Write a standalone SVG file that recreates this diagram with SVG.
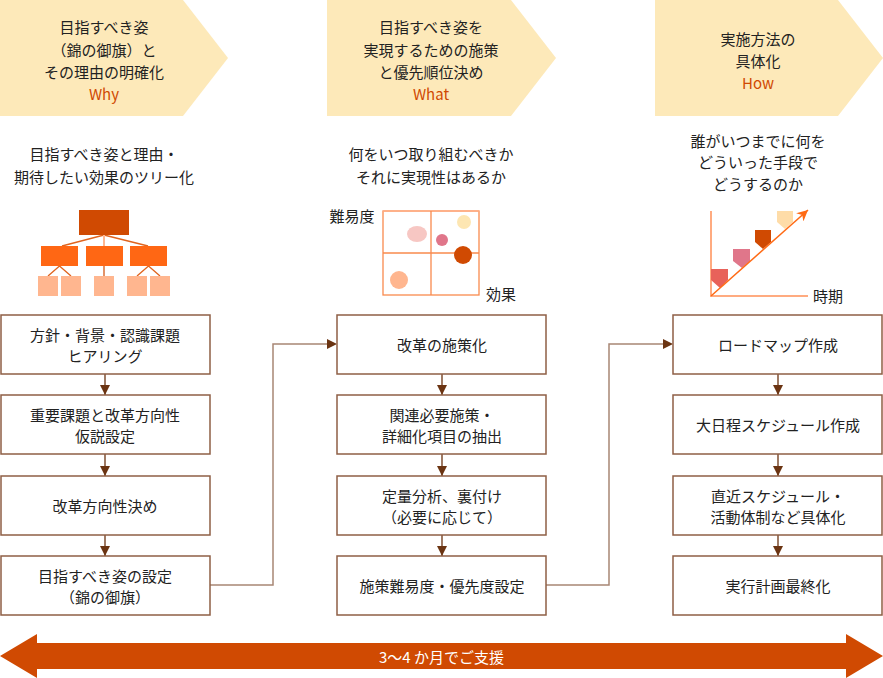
<svg xmlns="http://www.w3.org/2000/svg" width="883" height="678" viewBox="0 0 883 678">
<style>
text{font-family:"Noto Sans CJK JP","Noto Sans",sans-serif;font-size:15px;fill:#222;text-anchor:middle;dominant-baseline:central}
.en{fill:#d04a02}
.hd{fill:#fde9b9}
.box{fill:#fff;stroke:#8e5f45;stroke-width:1.5}
.lnk{fill:none;stroke:#a88674;stroke-width:1.5}
.vl{fill:none;stroke:#6b3412;stroke-width:1.3}
</style>
<defs>
<marker id="ah" viewBox="0 0 10 10" refX="10" refY="5" markerWidth="10" markerHeight="10" markerUnits="userSpaceOnUse" orient="auto">
<path d="M0,0 L10,5 L0,10 Z" fill="#6b3412"/>
</marker>
<marker id="oa" viewBox="0 0 10 10" refX="10" refY="5" markerWidth="11" markerHeight="11" markerUnits="userSpaceOnUse" orient="auto">
<path d="M0,0 L10,5 L0,10 L3,5 Z" fill="#ff6a14"/>
</marker>
</defs>

<g id="header-why">
<polygon class="hd" points="0,0 183,0 228,58 183,116 0,116"/>
<text x="104" y="26.5">目指すべき姿</text>
<text x="104" y="49">（錦の御旗）と</text>
<text x="104" y="71.5">その理由の明確化</text>
<text class="en" x="104" y="93">Why</text>
</g>
<g id="header-what">
<polygon class="hd" points="327,0 511,0 556,58 511,116 327,116"/>
<text x="431" y="26.5">目指すべき姿を</text>
<text x="431" y="49">実現するための施策</text>
<text x="431" y="71.5">と優先順位決め</text>
<text class="en" x="431" y="93">What</text>
</g>
<g id="header-how">
<polygon class="hd" points="655,0 838,0 883,58 838,116 655,116"/>
<text x="758" y="38">実施方法の</text>
<text x="758" y="60">具体化</text>
<text class="en" x="758" y="82">How</text>
</g>

<g id="desc-why">
<text x="104" y="153.5">目指すべき姿と理由・</text>
<text x="104" y="176">期待したい効果のツリー化</text>
</g>
<g id="desc-what">
<text x="431" y="153.5">何をいつ取り組むべきか</text>
<text x="431" y="176">それに実現性はあるか</text>
</g>
<g id="desc-how">
<text x="758" y="140">誰がいつまでに何を</text>
<text x="758" y="161.5">どういった手段で</text>
<text x="758" y="183.5">どうするのか</text>
</g>

<g id="icon-tree">
<g stroke="#e0641e" stroke-width="1.3" fill="none">
<path d="M104,235 L62,246 M104,235 L148,246"/>
<path d="M59.5,266 L48,276 M59.5,266 L71,276 M148.5,266 L137,276 M148.5,266 L160,276"/>
</g>
<path d="M104,235 V246" stroke="#ffb68f" stroke-width="2"/>
<path d="M104,266 V276" stroke="#d04a02" stroke-width="1.2"/>
<rect x="79" y="210" width="50" height="25" fill="#d04a02"/>
<g fill="#ff6714">
<rect x="41" y="246" width="37" height="20"/>
<rect x="86" y="246" width="37" height="20"/>
<rect x="130" y="246" width="37" height="20"/>
</g>
<g fill="#ffb68f">
<rect x="38" y="276" width="20" height="20"/>
<rect x="61" y="276" width="20" height="20"/>
<rect x="94" y="276" width="20" height="20"/>
<rect x="127" y="276" width="20" height="20"/>
<rect x="150" y="276" width="20" height="20"/>
</g>
</g>

<g id="icon-matrix">
<rect x="383" y="211" width="96" height="84" fill="#fff" stroke="#f98a4e" stroke-width="1.3"/>
<path d="M383,211 H479" stroke="#ffb08a" stroke-width="1.5"/>
<path d="M431,211 V295 M383,253 H479" stroke="#f98a4e" stroke-width="1.3"/>
<ellipse cx="417" cy="234" rx="10" ry="8" fill="#f7c7c3"/>
<circle cx="442" cy="240" r="6" fill="#e0768a"/>
<circle cx="464" cy="222" r="7" fill="#fde6b2"/>
<circle cx="463" cy="255" r="9" fill="#d04a02"/>
<circle cx="399" cy="280" r="9" fill="#ffb68f"/>
<text x="352" y="215">難易度</text>
<text x="501" y="293">効果</text>
</g>

<g id="icon-chart">
<path d="M711,211 V296 H808" fill="none" stroke="#ffab80" stroke-width="2"/>
<polygon points="711,269 728,269 728,280 720,288 711,280" fill="#e8625a"/>
<polygon points="733,249 750,249 750,261 742,268 733,261" fill="#e0768a"/>
<polygon points="755,230 771,230 771,242 763,249 755,242" fill="#d04a02"/>
<polygon points="777,211 793,211 793,222 785,229 777,222" fill="#fedca8"/>
<path d="M711,296 L808,210" stroke="#ff6a14" stroke-width="1.5" marker-end="url(#oa)"/>
<text x="828" y="295">時期</text>
</g>

<g id="connectors">
<path class="vl" d="M105,374 V395" marker-end="url(#ah)"/>
<path class="vl" d="M105,454 V476" marker-end="url(#ah)"/>
<path class="vl" d="M105,535 V556" marker-end="url(#ah)"/>
<path class="vl" d="M442,374 V395" marker-end="url(#ah)"/>
<path class="vl" d="M442,454 V476" marker-end="url(#ah)"/>
<path class="vl" d="M442,535 V556" marker-end="url(#ah)"/>
<path class="vl" d="M778,374 V395" marker-end="url(#ah)"/>
<path class="vl" d="M778,454 V476" marker-end="url(#ah)"/>
<path class="vl" d="M778,535 V556" marker-end="url(#ah)"/>
<path class="lnk" d="M210,585 H273 V344 H327"/>
<path d="M327,339 L337,344 L327,349 Z" fill="#6b3412"/>
<path class="lnk" d="M546,585 H609 V344 H663"/>
<path d="M663,339 L673,344 L663,349 Z" fill="#6b3412"/>
</g>

<g id="why-1"><rect class="box" x="1" y="315" width="209" height="59"/><text x="105" y="334.5">方針・背景・認識課題</text><text x="105" y="355">ヒアリング</text></g>
<g id="why-2"><rect class="box" x="1" y="395" width="209" height="59"/><text x="105" y="414.5">重要課題と改革方向性</text><text x="105" y="435">仮説設定</text></g>
<g id="why-3"><rect class="box" x="1" y="476" width="209" height="59"/><text x="105" y="505.5">改革方向性決め</text></g>
<g id="why-4"><rect class="box" x="1" y="556" width="209" height="59"/><text x="105" y="575.5">目指すべき姿の設定</text><text x="105" y="596">（錦の御旗）</text></g>

<g id="what-1"><rect class="box" x="337" y="315" width="209" height="59"/><text x="442" y="344.5">改革の施策化</text></g>
<g id="what-2"><rect class="box" x="337" y="395" width="209" height="59"/><text x="442" y="414.5">関連必要施策・</text><text x="442" y="435">詳細化項目の抽出</text></g>
<g id="what-3"><rect class="box" x="337" y="476" width="209" height="59"/><text x="442" y="495.5">定量分析、裏付け</text><text x="442" y="516">（必要に応じて）</text></g>
<g id="what-4"><rect class="box" x="337" y="556" width="209" height="59"/><text x="442" y="585.5">施策難易度・優先度設定</text></g>

<g id="how-1"><rect class="box" x="673" y="315" width="209" height="59"/><text x="778" y="344.5">ロードマップ作成</text></g>
<g id="how-2"><rect class="box" x="673" y="395" width="209" height="59"/><text x="778" y="424.5">大日程スケジュール作成</text></g>
<g id="how-3"><rect class="box" x="673" y="476" width="209" height="59"/><text x="778" y="495.5">直近スケジュール・</text><text x="778" y="516">活動体制など具体化</text></g>
<g id="how-4"><rect class="box" x="673" y="556" width="209" height="59"/><text x="778" y="585.5">実行計画最終化</text></g>

<g id="period">
<polygon points="0,656 37,634 37,643 846,643 846,634 883,656 846,678 846,669 37,669 37,678" fill="#d04a02"/>
<text x="441.5" y="656" style="fill:#fff;font-size:15px">3〜4 か月でご支援</text>
</g>
</svg>
